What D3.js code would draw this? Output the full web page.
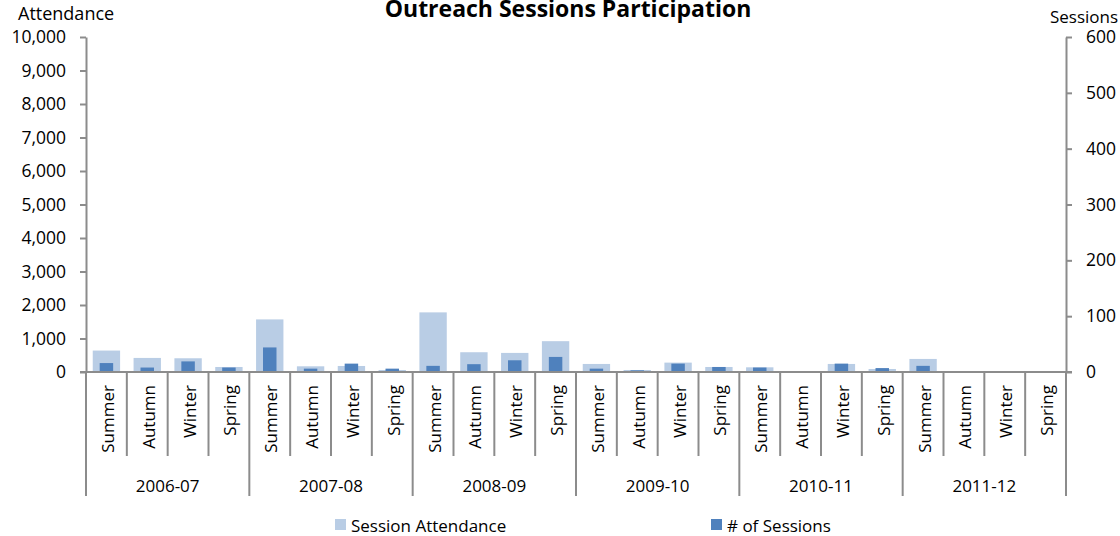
<!DOCTYPE html>
<html>
<head>
<meta charset="utf-8">
<script src="https://cdn.jsdelivr.net/npm/d3@7"></script>
<style>
  html, body { margin: 0; padding: 0; background: #fff; }
  svg { display: block; }
  text { font-family: "Open Sans", sans-serif; fill: #000; }
</style>
</head>
<body>
<svg id="chart" width="1120" height="536"></svg>
<script>
// ---- data ----
const years = ["2006-07", "2007-08", "2008-09", "2009-10", "2010-11", "2011-12"];
const seasons = ["Summer", "Autumn", "Winter", "Spring"];
const attendance = [640, 420, 410, 150, 1570, 170, 180, 60, 1780, 590, 570, 920,
                    240, 60, 280, 150, 140, 0, 240, 90, 390, 0, 0, 0];
const sessions = [16, 8, 19, 8, 44, 6, 15, 6, 11, 14, 21, 27,
                  6, 3, 15, 9, 8, 0, 15, 7, 11, 0, 0, 0];
const leftTicks = [0, 1000, 2000, 3000, 4000, 5000, 6000, 7000, 8000, 9000, 10000];
const rightTicks = [0, 100, 200, 300, 400, 500, 600];
const seriesNames = ["Session Attendance", "# of Sessions"];
const colors = ["#b9cde5", "#4f81bd"];

// ---- layout ----
const svg = d3.select("#chart");
const pL = 86, pR = 1066, pT = 37, pB = 372;
const axisColor = "#8c8c8c";

const cats = [];
years.forEach(y => seasons.forEach(s => cats.push({year: y, season: s})));
const idx = d3.range(cats.length);

const x = d3.scaleBand().domain(idx).range([pL, pR]).paddingInner(0).paddingOuter(0);
const yL = d3.scaleLinear().domain([0, 10000]).range([pB, pT]);
const yR = d3.scaleLinear().domain([0, 600]).range([pB, pT]);
const bw = x.bandwidth();

// Title
svg.append("text").attr("x", 568).attr("y", 17).attr("text-anchor", "middle")
  .style("font-weight", "bold").style("font-size", "23px")
  .text("Outreach Sessions Participation");
svg.append("text").attr("x", 18).attr("y", 20).style("font-size", "18px").text("Attendance");
svg.append("text").attr("x", 1050).attr("y", 23).style("font-size", "17px").text("Sessions");

// Bars
svg.append("g").selectAll("rect").data(idx).join("rect")
  .attr("x", i => x(i) + bw / 2 - bw * 0.335)
  .attr("width", bw * 0.67)
  .attr("y", i => yL(attendance[i]))
  .attr("height", i => pB - yL(attendance[i]))
  .attr("fill", colors[0]);
svg.append("g").selectAll("rect").data(idx.filter(i => sessions[i] > 0)).join("rect")
  .attr("x", i => x(i) + bw / 2 - bw * 0.165)
  .attr("width", bw * 0.33)
  .attr("y", i => yR(sessions[i]))
  .attr("height", i => pB - yR(sessions[i]))
  .attr("fill", colors[1]);

// Axes
const gL = svg.append("g").attr("transform", `translate(${pL},0)`)
  .call(d3.axisLeft(yL).tickValues(leftTicks).tickFormat(d3.format(",")).tickSize(6).tickSizeOuter(0).tickPadding(14));
const gR = svg.append("g").attr("transform", `translate(${pR},0)`)
  .call(d3.axisRight(yR).tickValues(rightTicks).tickSize(6).tickSizeOuter(0).tickPadding(14));
[gL, gR].forEach(g => {
  g.select(".domain").attr("stroke", axisColor).attr("stroke-width", 2);
  g.selectAll(".tick line").attr("stroke", axisColor).attr("stroke-width", 2);
  g.selectAll(".tick text").style("font-size", "17.5px").style("font-family", "'Open Sans', sans-serif").attr("fill", "#000");
});

// category axis
const gX = svg.append("g");
gX.append("line").attr("x1", pL - 6).attr("x2", pR + 6).attr("y1", pB).attr("y2", pB)
  .attr("stroke", axisColor).attr("stroke-width", 2);
d3.range(cats.length + 1).forEach(i => {
  const xx = i < cats.length ? x(i) : pR;
  gX.append("line").attr("x1", xx).attr("x2", xx).attr("y1", pB)
    .attr("y2", i % 4 === 0 ? 496 : 456)
    .attr("stroke", axisColor).attr("stroke-width", 2);
});
gX.selectAll("text.season").data(idx).join("text").attr("class", "season")
  .attr("transform", i => `translate(${x(i) + bw / 2 + 1},385) rotate(-90)`)
  .attr("text-anchor", "end").attr("dominant-baseline", "central")
  .style("font-size", "17px").text(i => cats[i].season);
gX.selectAll("text.year").data(years).join("text").attr("class", "year")
  .attr("x", (d, j) => x(j * 4) + bw * 2).attr("y", 485)
  .attr("text-anchor", "middle").attr("dominant-baseline", "central")
  .style("font-size", "17px").text(d => d);

// Legend
const legendX = [335, 711];
seriesNames.forEach((n, k) => {
  svg.append("rect").attr("x", legendX[k]).attr("y", 519).attr("width", 11).attr("height", 11).attr("fill", colors[k]);
  svg.append("text").attr("x", legendX[k] + 16).attr("y", 525).attr("dominant-baseline", "central")
    .style("font-size", "17px").text(n);
});
</script>
</body>
</html>
